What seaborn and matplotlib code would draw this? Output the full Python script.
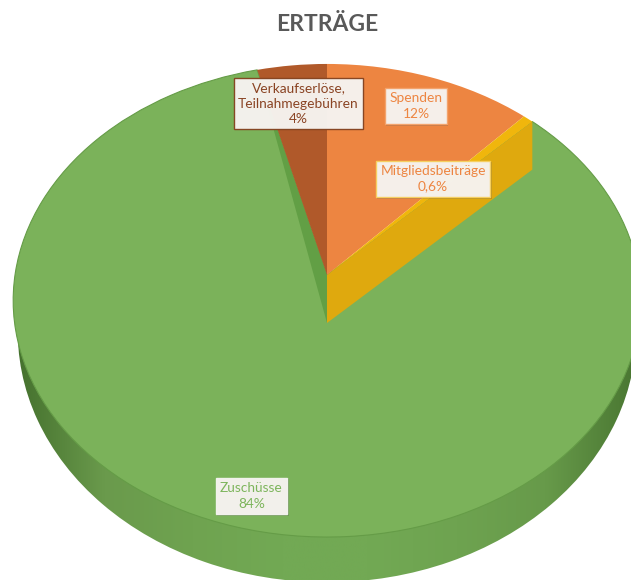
import numpy as np
import matplotlib
matplotlib.use("Agg")
import matplotlib.pyplot as plt
import seaborn as sns
from matplotlib.colors import LinearSegmentedColormap
from matplotlib.patches import Wedge
from matplotlib.patheffects import withSimplePatchShadow
from matplotlib.transforms import Transform

# Slices, clockwise from twelve o'clock
categories = ["Spenden", "Mitgliedsbeiträge", "Zuschüsse", "Verkaufserlöse,\nTeilnahmegebühren"]
shares = [12, 0.6, 84, 4]
share_labels = ["12%", "0,6%", "84%", "4%"]
slice_colors = ["#ED8541", "#F0B60C", "#7BB25A", "#B0592A"]
label_colors = ["#ED8541", "#ED8541", "#7DB55C", "#8A4424"]
label_edges = ["#F4A36B", "#F7D060", "#F4F4F0", "#84421F"]
label_positions = [(416, 106), (433, 179), (251.5, 496), (298.5, 103.5)]
label_padding = [0.33, 0.33, 0.33, 0.28]
wall_drop = 48
rim_stops = ["#44702D", "#6A9A4C", "#6FA350", "#72A954", "#72A954", "#6EA350", "#679A4A", "#4A7732"]

sns.set_theme(style="white")
plt.rcParams["font.family"] = ["Lato", "DejaVu Sans"]


class TiltedDisk(Transform):
    """Projects the unit disk of a pie onto the page, receding towards the top."""
    input_dims = 2
    output_dims = 2

    def __init__(self, cx, cy, a, b, k):
        super().__init__()
        self.cx, self.cy, self.a, self.b, self.k = cx, cy, a, b, k

    def transform_non_affine(self, values):
        pts = np.asarray(values, dtype=float)
        w = 1 + self.k * pts[:, 1]
        return np.column_stack([self.cx + self.a * pts[:, 0] / w,
                                self.cy - self.b * pts[:, 1] / w])


fig = plt.figure(figsize=(6.31, 5.8), dpi=100)
ax = fig.add_axes([0, 0, 1, 1])

top_disk = TiltedDisk(327, 275, 312, 233.8, 0.1078)
base_disk = TiltedDisk(327, 323, 309, 250, 0.036)

wedges, _ = ax.pie(shares, colors=slice_colors, startangle=90, counterclock=False,
                   wedgeprops={"linewidth": 0})
for wedge in wedges:
    wedge.set_transform(top_disk + ax.transData)
wedges[2].set_zorder(2)
wedges[2].set_edgecolor("#659C47")
wedges[2].set_linewidth(0.8)
for i in (0, 1, 3):
    wedges[i].set_zorder(4)

# Side of the disk: a horizontal shading clipped to the lower outline
rim_map = LinearSegmentedColormap.from_list("rim", rim_stops)
rim = ax.imshow(np.linspace(0, 1, 256)[None, :], cmap=rim_map, aspect="auto",
                extent=(15, 635, 600, 280), zorder=1, interpolation="bilinear")
base_outline = Wedge((0, 0), 1, 0, 360, transform=base_disk + ax.transData)
rim.set_clip_path(base_outline)


def on_top(theta_deg):
    """Page position of a point on the top outline at a pie angle."""
    t = np.radians(theta_deg)
    return top_disk.transform_non_affine(np.array([[np.cos(t), np.sin(t)]]))[0]


apex = top_disk.transform_non_affine(np.array([[0.0, 0.0]]))[0]
fractions = np.cumsum(shares) / np.sum(shares)
yellow_end = 90 - 360 * fractions[1]
brown_start = 90 - 360 * fractions[2]

# Cut faces of the raised slices
edge = on_top(yellow_end)
ax.fill([apex[0], edge[0], edge[0], apex[0]],
        [apex[1], edge[1], edge[1] + wall_drop, apex[1] + wall_drop],
        color="#DFA90E", lw=0, zorder=3)
edge = on_top(brown_start)
ax.fill([apex[0], edge[0], apex[0]],
        [apex[1], edge[1], apex[1] + wall_drop],
        color="#629F45", lw=0, zorder=3)

ax.set_xlim(0, 631)
ax.set_ylim(580, 0)
ax.set_aspect("auto")
ax.axis("off")

for name, share, pos, col, edgecol, pad in zip(categories, share_labels, label_positions,
                                               label_colors, label_edges, label_padding):
    txt = ax.text(pos[0], pos[1], f"{name}\n{share}", ha="center", va="center", fontsize=9.9,
                  color=col, linespacing=1.32, zorder=6,
                  bbox=dict(boxstyle=f"square,pad={pad}", fc="#F8F5F2", ec=edgecol, lw=1.0, alpha=0.96))
    txt.get_bbox_patch().set_path_effects([withSimplePatchShadow(offset=(1, -1), alpha=0.25)])

ax.text(327, 24.5, "ERTRÄGE", ha="center", va="center", fontsize=16.5, fontweight="bold", color="#595959")

fig.savefig("out.png", dpi=100, facecolor="white")
